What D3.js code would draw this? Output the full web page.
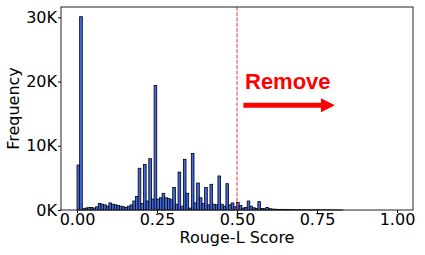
<!DOCTYPE html>
<html>
<head>
<meta charset="utf-8">
<script src="https://cdn.jsdelivr.net/npm/d3@7"></script>
<style>
  body { margin: 0; background: #fff; }
  svg { display: block; }
  .axis text { font-family: "DejaVu Sans", sans-serif; font-size: 16px; fill: #000; }
  .axis path, .axis line { stroke: #000; }
</style>
</head>
<body>
<svg width="425" height="255"></svg>
<script>
// histogram counts, 100 bins from 0 to scoreMax
var scoreMax = 0.831;
var counts = [
  7000, 30100, 200, 300, 400, 400, 300, 500, 1000, 900,
  800, 600, 1100, 900, 800, 700, 600, 500, 400, 600,
  800, 1400, 2100, 6500, 1000, 7100, 1400, 8000, 1700, 19400,
  1700, 1900, 2600, 1900, 1800, 1600, 3500, 900, 5900, 600,
  7900, 2600, 300, 8800, 1100, 4200, 1900, 1000, 3500, 800,
  4000, 900, 800, 5300, 900, 600, 4100, 800, 1100, 500,
  1200, 700, 300, 400, 1400, 600, 350, 250, 1300, 250,
  200, 400, 200, 150, 120, 100, 100, 100, 80, 80,
  60, 60, 50, 50, 50, 40, 40, 40, 30, 30,
  30, 30, 20, 20, 20, 20, 15, 10, 10, 5
];
var xTicks = [0, 0.25, 0.5, 0.75, 1.0];
var yTicks = [0, 10000, 20000, 30000];
var threshold = 0.5;
var label = "Remove";

var svg = d3.select("svg"),
    margin = {top: 7, right: 12, bottom: 45, left: 61},
    width = svg.attr("width") - margin.left - margin.right,
    height = svg.attr("height") - margin.top - margin.bottom,
    g = svg.append("g").attr("transform", "translate(" + margin.left + "," + margin.top + ")");

var binW = scoreMax / counts.length;
var bins = counts.map(function(c, i) {
  return {x0: i * binW, x1: (i + 1) * binW, n: c};
});

var x = d3.scaleLinear().domain([-0.05, 1.05]).range([0, width]),
    y = d3.scaleLinear().domain([0, d3.max(counts) * 1.05]).range([height, 0]);

// bars
g.selectAll(".bar")
  .data(bins)
  .enter().append("rect")
  .attr("class", "bar")
  .attr("x", function(d) { return x(d.x0); })
  .attr("y", function(d) { return y(d.n); })
  .attr("width", function(d) { return x(d.x1) - x(d.x0); })
  .attr("height", function(d) { return y(0) - y(d.n); })
  .style("fill", "#4169e1")
  .style("stroke", "#000")
  .style("stroke-width", 0.8);

// threshold line
g.append("line")
  .attr("x1", x(threshold)).attr("x2", x(threshold))
  .attr("y1", 0).attr("y2", height)
  .style("stroke", "#f03030")
  .style("stroke-width", 1)
  .style("stroke-dasharray", "3.7,1.6");

// annotation
var arrowY = y(16300), arrowX0 = x(0.52), arrowX1 = x(0.806);
g.append("text")
  .attr("x", x(0.525))
  .attr("y", y(18900))
  .style("font-family", "'Liberation Sans', Arial, sans-serif")
  .style("font-weight", "bold")
  .style("font-size", "22px")
  .style("fill", "#ff0000")
  .text(label);
g.append("line")
  .attr("x1", arrowX0).attr("x2", arrowX1 - 12)
  .attr("y1", arrowY).attr("y2", arrowY)
  .style("stroke", "#ff0000")
  .style("stroke-width", 5);
g.append("path")
  .attr("d", "M" + arrowX1 + "," + arrowY + "L" + (arrowX1 - 14) + "," + (arrowY - 7) + "L" + (arrowX1 - 14) + "," + (arrowY + 7) + "Z")
  .style("fill", "#ff0000");

// axes
g.append("g")
  .attr("class", "axis axis--x")
  .attr("transform", "translate(0," + height + ")")
  .call(d3.axisBottom(x).tickValues(xTicks).tickSize(3).tickPadding(1).tickFormat(d3.format(".2f")))
  .call(function(a) { a.select(".domain").remove(); });

g.append("g")
  .attr("class", "axis axis--y")
  .call(d3.axisLeft(y).tickValues(yTicks).tickSize(3).tickPadding(1).tickFormat(function(d) { return (d / 1000) + "K"; }))
  .call(function(a) { a.select(".domain").remove(); });

// frame
g.append("rect")
  .attr("x", 0).attr("y", 0)
  .attr("width", width).attr("height", height)
  .style("fill", "none")
  .style("stroke", "#222")
  .style("stroke-width", 1);

g.append("text")
  .attr("x", width / 2)
  .attr("y", height + 33)
  .attr("text-anchor", "middle")
  .style("font-family", "'DejaVu Sans', sans-serif")
  .style("font-size", "16px")
  .text("Rouge-L Score");

g.append("text")
  .attr("transform", "rotate(-90)")
  .attr("x", -height / 2)
  .attr("y", -42)
  .attr("text-anchor", "middle")
  .style("font-family", "'DejaVu Sans', sans-serif")
  .style("font-size", "16px")
  .text("Frequency");
</script>
</body>
</html>
